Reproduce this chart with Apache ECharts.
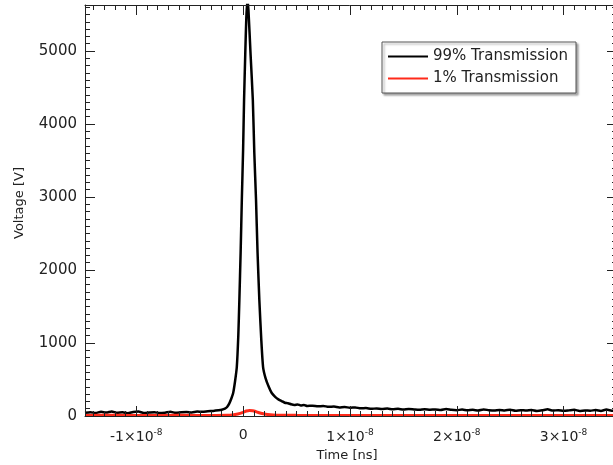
<!DOCTYPE html>
<html>
<head>
<meta charset="utf-8">
<script src="https://cdn.jsdelivr.net/npm/echarts@6/dist/echarts.min.js"></script>
<style>html,body{margin:0;padding:0;background:#fff}#c{width:613px;height:465px}</style>
</head>
<body>
<div id="c"></div>
<script>
// Time in ns (axis shown in seconds: 10 ns = 1x10^-8)
const times99 = [-14.8,-14.3,-13.8,-13.3,-12.8,-12.3,-11.8,-11.3,-10.8,-10.3,-9.8,-9.3,-8.8,-8.3,-7.8,-7.3,-6.8,-6.3,-5.8,-5.3,-4.8,-4.3,-3.8,-3.3,-2.8,-2.3,-2.0,-1.7,-1.5,-1.3,-1.1,-0.93,-0.75,-0.59,-0.45,-0.35,-0.23,-0.12,0,0.09,0.2,0.3,0.4,0.5,0.7,0.91,1.05,1.21,1.35,1.52,1.7,1.87,2.1,2.4,2.68,3.0,3.3,3.6,3.9,4.2,4.5,4.8,5.1,5.4,5.7,6.0,6.5,7.0,7.5,8.0,8.5,9.0,9.5,10.0,10.5,11.0,11.5,12.0,12.5,13,13.5,14,14.5,15,15.5,16,16.5,17,17.5,18,18.5,19,19.5,20,20.5,21,21.5,22,22.5,23,23.5,24,24.5,25,25.5,26,26.5,27,27.5,28,28.5,29,29.5,30,30.5,31,31.5,32,32.5,33,33.5,34,34.5,35];
const volts99 = [45,52,40,58,47,62,44,50,38,55,60,42,48,53,40,46,57,43,50,55,48,60,58,66,70,78,85,100,123,170,240,315,480,671,1100,1589,2250,2959,3650,4329,4950,5450,5700,5560,4950,4329,3600,2959,2250,1589,1050,671,520,400,315,262,228,205,182,175,160,152,158,145,150,138,142,132,138,125,130,118,124,112,118,105,110,98,104,95,102,92,98,88,96,90,85,93,86,90,82,95,84,80,88,78,84,76,90,80,74,82,77,85,72,80,75,83,70,78,92,74,80,71,77,84,70,76,73,81,69,88,72,70];
const times1 = [-14.8,-12,-9,-6,-3,-1.5,-1,-0.5,0,0.3,0.6,0.9,1.2,1.5,1.9,2.3,2.8,3.5,5,8,12,16,20,25,30,35];
const volts1 = [8,10,7,9,8,10,15,28,50,68,76,72,60,45,32,22,15,11,9,8,7,8,6,7,6,7];
const xMajor = [-10,0,10,20,30];
const xLabels = ['-1×10', '0', '1×10', '2×10', '3×10'];
const yMajor = [0,1000,2000,3000,4000,5000];
const yLabels = ['0','1000','2000','3000','4000','5000'];
const seriesNames = ['99% Transmission', '1% Transmission'];

const X_MIN = -14.8, X_MAX = 35, Y_MIN = 0, Y_MAX = 5630;
const xMinor = []; for (let v = -14; v <= 35; v++) xMinor.push(v);
const yMinor = []; for (let v = 0; v <= 5600; v += 100) yMinor.push(v);

const FONT = 'DejaVu Sans';
const lineC = '#222';

function xAx(pos, ticks, len, showLine) {
  return {
    type: 'value', position: pos, min: X_MIN, max: X_MAX, z: 10,
    axisLine: {show: showLine, onZero: false, lineStyle: {color: lineC, width: 1}},
    axisTick: {show: true, inside: true, length: len, customValues: ticks, lineStyle: {color: lineC, width: 1}},
    axisLabel: {show: false},
    splitLine: {show: false}
  };
}
function yAx(pos, ticks, len, showLine) {
  return {
    type: 'value', position: pos, min: Y_MIN, max: Y_MAX, z: 10,
    axisLine: {show: showLine, onZero: false, lineStyle: {color: lineC, width: 1}},
    axisTick: {show: true, inside: true, length: len, customValues: ticks, lineStyle: {color: lineC, width: 1}},
    axisLabel: {show: false},
    splitLine: {show: false}
  };
}

const xMain = xAx('bottom', xMajor, 10, true);
xMain.axisLabel = {
  show: true, customValues: xMajor, margin: 12,
  formatter: function (v) {
    const i = xMajor.indexOf(v);
    if (i < 0) return '';
    if (v === 0) return '{b|0}';
    return '{b|' + xLabels[i] + '}{s|-8}';
  },
  rich: {
    b: {fontFamily: FONT, fontSize: 14, color: '#222'},
    s: {fontFamily: FONT, fontSize: 9, color: '#222', padding: [0, 0, 10, 0]}
  }
};
xMain.name = 'Time [ns]';
xMain.nameLocation = 'middle';
xMain.nameGap = 33;
xMain.nameTextStyle = {fontFamily: FONT, fontSize: 13, color: '#222', padding: [0, 8, 0, 0]};

const yMain = yAx('left', yMajor, 10, true);
yMain.axisLabel = {
  show: true, customValues: yMajor, margin: 8, fontFamily: FONT, fontSize: 15, color: '#222',
  formatter: function (v) { const i = yMajor.indexOf(v); return i < 0 ? '' : yLabels[i]; }
};
yMain.name = 'Voltage [V]';
yMain.nameLocation = 'middle';
yMain.nameGap = 59;
yMain.nameTextStyle = {fontFamily: FONT, fontSize: 13, color: '#222', padding: [0, 0, 0, 15]};

const option = {
  animation: false,
  backgroundColor: '#fff',
  grid: {left: 85, right: -4, top: 5, bottom: 49, containLabel: false, outerBoundsMode: 'none'},
  legend: {
    data: seriesNames.map(n => ({name: n, icon: 'rect'})),
    orient: 'vertical', left: 382, top: 42,
    itemWidth: 40, itemHeight: 2, itemGap: 7,
    padding: [7, 8, 7, 6],
    backgroundColor: '#fff', borderColor: '#555', borderWidth: 1, borderRadius: 0,
    shadowColor: 'rgba(0,0,0,0.35)', shadowBlur: 2, shadowOffsetX: 2, shadowOffsetY: 2,
    textStyle: {fontFamily: FONT, fontSize: 15, color: '#222'}
  },
  xAxis: [
    xMain,
    xAx('bottom', xMinor, 5, false),
    xAx('top', xMajor, 10, true),
    xAx('top', xMinor, 5, false)
  ],
  yAxis: [
    yMain,
    yAx('left', yMinor, 5, false),
    yAx('right', yMajor, 10, true),
    yAx('right', yMinor, 5, false)
  ],
  series: [
    {
      name: seriesNames[0], type: 'line', xAxisIndex: 0, yAxisIndex: 0,
      showSymbol: false, clip: true, z: 2, smooth: 0.2,
      lineStyle: {color: '#000', width: 2.5}, itemStyle: {color: '#000'},
      data: times99.map((t, i) => [t, volts99[i]])
    },
    {
      name: seriesNames[1], type: 'line', xAxisIndex: 0, yAxisIndex: 0,
      showSymbol: false, clip: true, z: 3, smooth: 0.3,
      lineStyle: {color: '#ff2a1a', width: 3}, itemStyle: {color: '#ff2a1a'},
      data: times1.map((t, i) => [t, volts1[i]])
    }
  ]
};
const chart = echarts.init(document.getElementById('c'), null, {renderer: 'canvas'});
chart.setOption(option);
</script>
</body>
</html>
